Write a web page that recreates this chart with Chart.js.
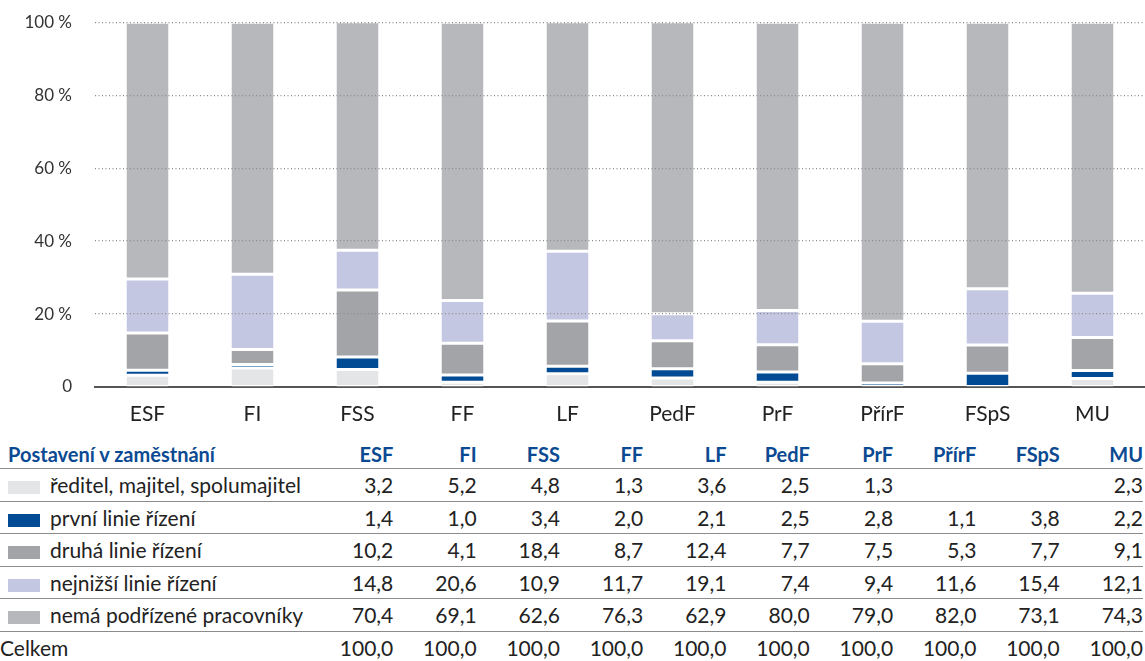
<!DOCTYPE html>
<html>
<head>
<meta charset="utf-8">
<script src="https://cdn.jsdelivr.net/npm/chart.js@4"></script>
<style>
  body { margin: 0; background: #fff; font-family: Lato, sans-serif; }
  #wrap { position: absolute; left: 0; top: -11px; width: 1145px; height: 441px; }
  table { position: absolute; left: 0; top: 440px; width: 1143px; border-collapse: collapse; table-layout: fixed; }
  th, td { padding: 0; text-align: right; white-space: nowrap; }
  th { color: #0b4a92; font-weight: 700; font-size: 20px; height: 28px; border-bottom: 1.5px solid #8c8c8c; }
  td { color: #222; font-size: 21px; height: 31.5px; border-bottom: 1.5px solid #8c8c8c; }
  tr:last-child td { border-bottom: none; }
  th.lab, td.lab { text-align: left; }
  .sw { display: inline-block; width: 32px; height: 13px; margin: 0 10px 0 8px; vertical-align: -1px; }
</style>
</head>
<body>
<div id="wrap"><canvas id="chart"></canvas></div>
<table id="tbl"></table>
<script>
const categories = ['ESF', 'FI', 'FSS', 'FF', 'LF', 'PedF', 'PrF', 'PřírF', 'FSpS', 'MU'];
const reditel = [3.2, 5.2, 4.8, 1.3, 3.6, 2.5, 1.3, null, null, 2.3];
const prvniLinie = [1.4, 1.0, 3.4, 2.0, 2.1, 2.5, 2.8, 1.1, 3.8, 2.2];
const druhaLinie = [10.2, 4.1, 18.4, 8.7, 12.4, 7.7, 7.5, 5.3, 7.7, 9.1];
const nejnizsiLinie = [14.8, 20.6, 10.9, 11.7, 19.1, 7.4, 9.4, 11.6, 15.4, 12.1];
const nemaPodrizene = [70.4, 69.1, 62.6, 76.3, 62.9, 80.0, 79.0, 82.0, 73.1, 74.3];
const celkem = [100.0, 100.0, 100.0, 100.0, 100.0, 100.0, 100.0, 100.0, 100.0, 100.0];
const yTicks = [0, 20, 40, 60, 80, 100];

const series = [
  { label: 'ředitel, majitel, spolumajitel', data: reditel, color: '#e4e5e6' },
  { label: 'první linie řízení', data: prvniLinie, color: '#004b93' },
  { label: 'druhá linie řízení', data: druhaLinie, color: '#a3a4a7' },
  { label: 'nejnižší linie řízení', data: nejnizsiLinie, color: '#c3c7e1' },
  { label: 'nemá podřízené pracovníky', data: nemaPodrizene, color: '#b7b8bb' }
];

const ctx = document.getElementById('chart').getContext('2d');
new Chart(ctx, {
  type: 'bar',
  data: {
    labels: categories,
    datasets: series.map(s => ({
      label: s.label,
      data: s.data,
      backgroundColor: s.color,
      borderColor: '#ffffff',
      borderWidth: { top: 1.5, bottom: 1.5, left: 0, right: 0 },
      borderSkipped: false,
      categoryPercentage: 1,
      barPercentage: 0.4
    }))
  },
  options: {
    responsive: true,
    maintainAspectRatio: false,
    animation: false,
    layout: { padding: { top: 11, left: 0, right: 0, bottom: 0 } },
    plugins: {
      legend: { display: false },
      tooltip: { enabled: false }
    },
    scales: {
      x: {
        stacked: true,
        grid: { display: false },
        border: { display: true, color: '#555', width: 2 },
        ticks: { color: '#222', font: { family: 'Lato', size: 21 }, padding: 7 },
        afterFit: s => { s.height = 43; }
      },
      y: {
        stacked: true,
        min: 0,
        max: 100,
        afterBuildTicks: s => { s.ticks = yTicks.map(v => ({ value: v })); },
        grid: {
          z: 1,
          drawTicks: false,
          color: c => (c.tick && c.tick.value === 0) ? 'rgba(0,0,0,0)' : '#8a8a8a',
          lineWidth: 1.2
        },
        border: { display: false, dash: [1, 2.5] },
        ticks: {
          color: '#333',
          font: { family: 'Lato', size: 17 },
          padding: 23,
          callback: v => v === 0 ? '0' : v + ' %'
        },
        afterFit: s => { s.width = 95; }
      }
    }
  }
});

// table under the chart, built from the same arrays
const fmt = v => v === null ? '' : v.toFixed(1).replace('.', ',');
const tbl = document.getElementById('tbl');
let html = '<colgroup><col style="width:310px">' + categories.map(() => '<col style="width:83.3px">').join('') + '</colgroup>';
html += '<tr><th class="lab" style="padding-left:8px">Postavení v zaměstnání</th>' + categories.map(c => '<th>' + c + '</th>').join('') + '</tr>';
series.forEach(s => {
  html += '<tr><td class="lab"><span class="sw" style="background:' + s.color + '"></span>' + s.label + '</td>' +
    s.data.map(v => '<td>' + fmt(v) + '</td>').join('') + '</tr>';
});
html += '<tr><td class="lab">Celkem</td>' + celkem.map(v => '<td>' + fmt(v) + '</td>').join('') + '</tr>';
tbl.innerHTML = html;
</script>
</body>
</html>
